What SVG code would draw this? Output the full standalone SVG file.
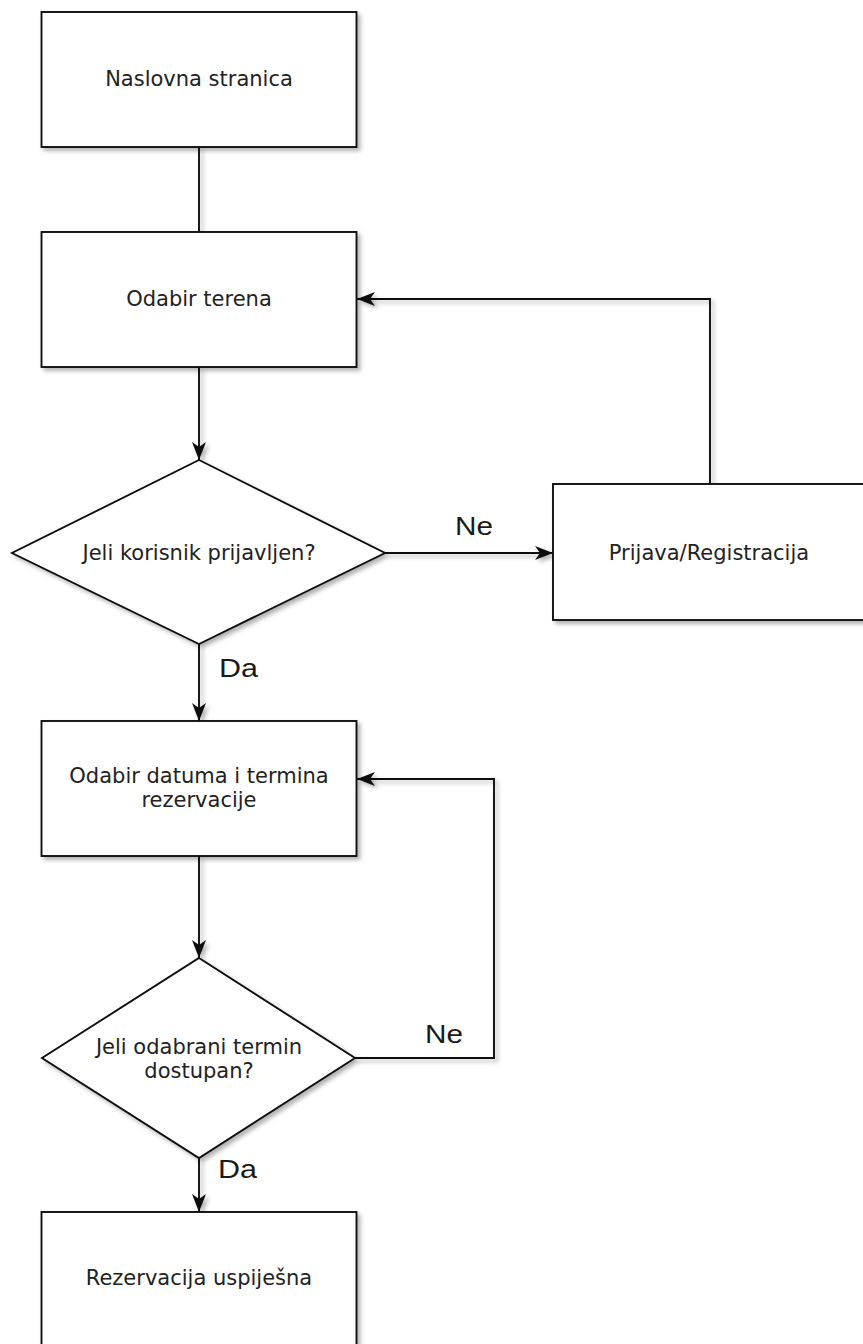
<svg xmlns="http://www.w3.org/2000/svg" width="863" height="1344" viewBox="0 0 863 1344">
<defs>
<filter id="sh" filterUnits="userSpaceOnUse" x="0" y="0" width="863" height="1344">
<feDropShadow dx="3" dy="3" stdDeviation="2" flood-color="#000" flood-opacity="0.3"/>
</filter>
<marker id="arr" markerUnits="userSpaceOnUse" markerWidth="20" markerHeight="16" viewBox="0 0 20 16" refX="18" refY="8" orient="auto">
<path d="M0,1 L18,8 L0,15 L5,8 Z" fill="#111"/>
</marker>
</defs>
<style>
.box{fill:#fff;stroke:#111;stroke-width:1.9;filter:url(#sh)}
.t{font-family:"DejaVu Sans",Verdana,sans-serif;font-size:21px;fill:#222;text-anchor:middle}
.lbl{font-family:"Liberation Sans",Arial,sans-serif;font-size:26px;fill:#1a1a1a}
.c{fill:none;stroke:#111;stroke-width:1.9;filter:url(#sh)}
.ca{fill:none;stroke:#111;stroke-width:1.9;marker-end:url(#arr);filter:url(#sh)}
</style>
<rect width="863" height="1344" fill="#fff"/>
<g id="connectors">
<path class="c" d="M199,147 L199,232"/>
<path class="ca" d="M199,367 L199,460"/>
<path class="ca" d="M385,553 L553,553"/>
<path class="ca" d="M710,484 L710,299 L357,299"/>
<path class="ca" d="M199,644 L199,721"/>
<path class="ca" d="M199,856 L199,958"/>
<path class="ca" d="M355,1058 L494,1058 L494,779 L357,779"/>
<path class="ca" d="M199,1158 L199,1212"/>
<text class="lbl" x="455" y="535" textLength="38" lengthAdjust="spacingAndGlyphs">Ne</text>
<text class="lbl" x="219" y="677" textLength="39" lengthAdjust="spacingAndGlyphs">Da</text>
<text class="lbl" x="425" y="1043" textLength="38" lengthAdjust="spacingAndGlyphs">Ne</text>
<text class="lbl" x="218" y="1178" textLength="39" lengthAdjust="spacingAndGlyphs">Da</text>
</g>
<g id="n1">
<rect class="box" x="41.5" y="12" width="315" height="135"/>
<text class="t" x="199" y="86">Naslovna stranica</text>
</g>
<g id="n2">
<rect class="box" x="41.5" y="232" width="315" height="135"/>
<text class="t" x="199" y="306">Odabir terena</text>
</g>
<g id="d1">
<polygon class="box" points="199,460 385,553 199,644 12,553"/>
<text class="t" x="199" y="560">Jeli korisnik prijavljen?</text>
</g>
<g id="n3">
<rect class="box" x="553" y="484" width="316" height="136"/>
<text class="t" x="709" y="560">Prijava/Registracija</text>
</g>
<g id="n4">
<rect class="box" x="41.5" y="721" width="315" height="135"/>
<text class="t" x="199" y="783">Odabir datuma i termina</text>
<text class="t" x="199" y="807">rezervacije</text>
</g>
<g id="d2">
<polygon class="box" points="199,958 355,1058 199,1158 42,1058"/>
<text class="t" x="199" y="1054">Jeli odabrani termin</text>
<text class="t" x="199" y="1078">dostupan?</text>
</g>
<g id="n5">
<rect class="box" x="41.5" y="1212" width="315" height="140"/>
<text class="t" x="199" y="1285">Rezervacija uspiješna</text>
</g>
</svg>
